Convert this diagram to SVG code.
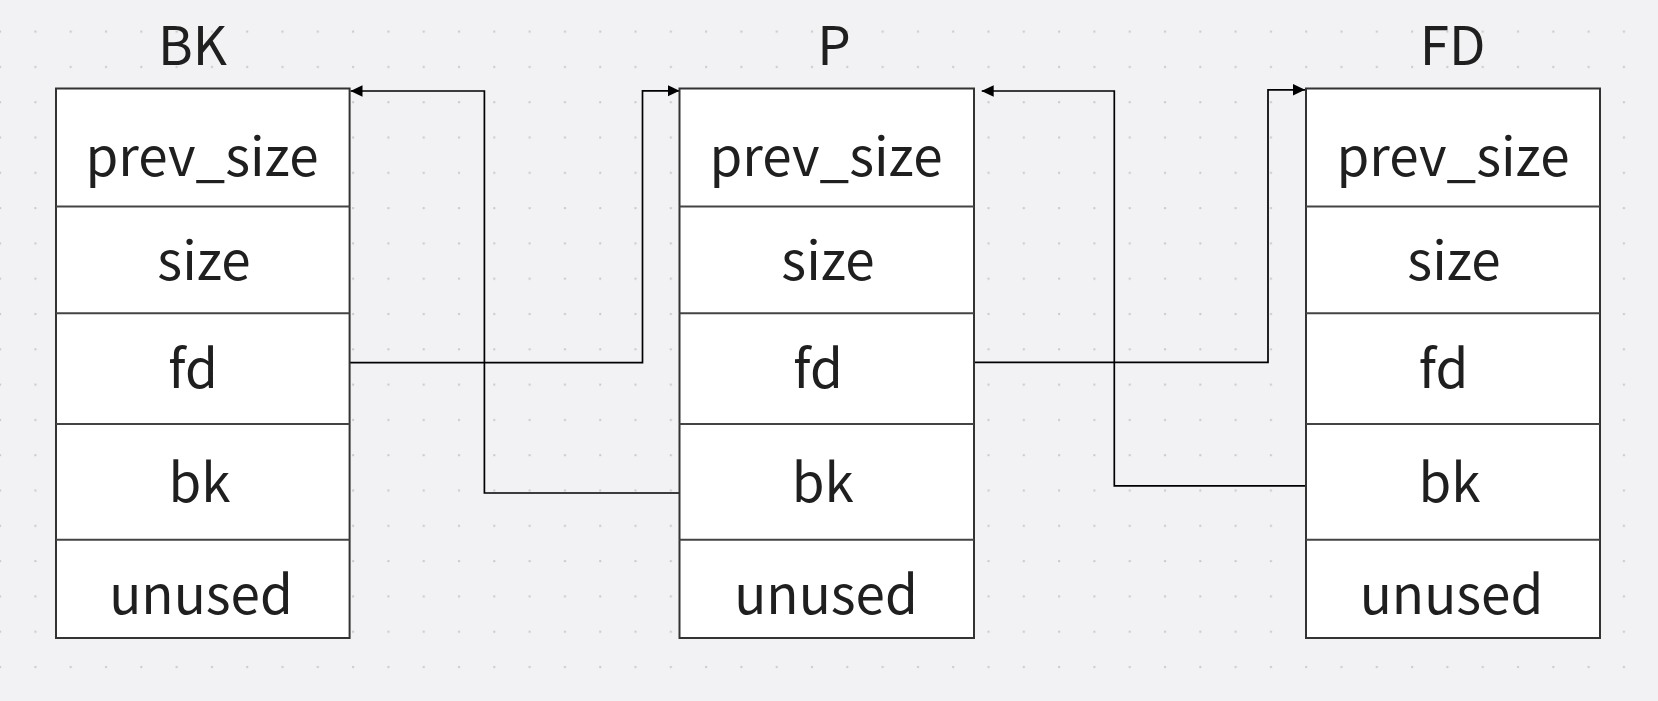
<svg xmlns="http://www.w3.org/2000/svg" width="1658" height="701" viewBox="0 0 1658 701">
  <style>
    .bg { fill: #f2f2f4; }
    .box { fill: #ffffff; stroke: #333333; stroke-width: 2; }
    .div { stroke: #444444; stroke-width: 2; fill: none; }
    .t { font-family: "Noto Sans CJK SC", "Noto Sans", sans-serif; font-size: 53px; fill: #1f1f1f; text-anchor: middle; }
    .conn { fill: none; stroke: #000000; stroke-width: 1.7; }
  </style>
  <defs>
    <pattern id="dots" patternUnits="userSpaceOnUse" x="-17.65" y="13.85" width="35.3" height="35.3">
      <rect x="16.8" y="16.8" width="2" height="2" fill="#c8c8cc"/>
    </pattern>
    <marker id="arr" viewBox="0 0 12 12" refX="12" refY="6" markerWidth="12" markerHeight="12" markerUnits="userSpaceOnUse" orient="auto">
      <path d="M0,0.2 L12,6 L0,11.8 Z" fill="#000000"/>
    </marker>
  </defs>

  <rect class="bg" x="0" y="0" width="1658" height="701"/>
  <rect x="0" y="0" width="1658" height="701" fill="url(#dots)"/>

  <g id="connectors">
    <path class="conn" d="M349.6,362.7 H642.5 V90.8 H679.5" marker-end="url(#arr)"/>
    <path class="conn" d="M679.5,493 H484.4 V91 H350.5" marker-end="url(#arr)"/>
    <path class="conn" d="M974,362.3 H1268 V89.8 H1305" marker-end="url(#arr)"/>
    <path class="conn" d="M1306,485.8 H1114.3 V91 H981.7" marker-end="url(#arr)"/>
  </g>

  <g id="chunk-BK">
    <text class="t" x="192.5" y="65">BK</text>
    <rect class="box" x="56" y="88.5" width="293.6" height="549.5"/>
    <line class="div" x1="56" y1="206.5" x2="349.6" y2="206.5"/>
    <line class="div" x1="56" y1="313.3" x2="349.6" y2="313.3"/>
    <line class="div" x1="56" y1="424" x2="349.6" y2="424"/>
    <line class="div" x1="56" y1="539.7" x2="349.6" y2="539.7"/>
    <text class="t" x="202" y="176">prev_size</text>
    <text class="t" x="204" y="280">size</text>
    <text class="t" x="193" y="388.3">fd</text>
    <text class="t" x="199.5" y="501.7">bk</text>
    <text class="t" x="201" y="613.5">unused</text>
  </g>

  <g id="chunk-P">
    <text class="t" x="834" y="65">P</text>
    <rect class="box" x="679.5" y="88.5" width="294.5" height="549.5"/>
    <line class="div" x1="679.5" y1="206.5" x2="974" y2="206.5"/>
    <line class="div" x1="679.5" y1="313.3" x2="974" y2="313.3"/>
    <line class="div" x1="679.5" y1="424" x2="974" y2="424"/>
    <line class="div" x1="679.5" y1="539.7" x2="974" y2="539.7"/>
    <text class="t" x="826" y="176">prev_size</text>
    <text class="t" x="828" y="280">size</text>
    <text class="t" x="818" y="388.3">fd</text>
    <text class="t" x="822.7" y="501.7">bk</text>
    <text class="t" x="826" y="613.5">unused</text>
  </g>

  <g id="chunk-FD">
    <text class="t" x="1452.7" y="65">FD</text>
    <rect class="box" x="1306" y="88.5" width="294" height="549.5"/>
    <line class="div" x1="1306" y1="206.5" x2="1600" y2="206.5"/>
    <line class="div" x1="1306" y1="313.3" x2="1600" y2="313.3"/>
    <line class="div" x1="1306" y1="424" x2="1600" y2="424"/>
    <line class="div" x1="1306" y1="539.7" x2="1600" y2="539.7"/>
    <text class="t" x="1453" y="176">prev_size</text>
    <text class="t" x="1454" y="280">size</text>
    <text class="t" x="1443.6" y="388.3">fd</text>
    <text class="t" x="1449.6" y="501.7">bk</text>
    <text class="t" x="1451.5" y="613.5">unused</text>
  </g>
</svg>
